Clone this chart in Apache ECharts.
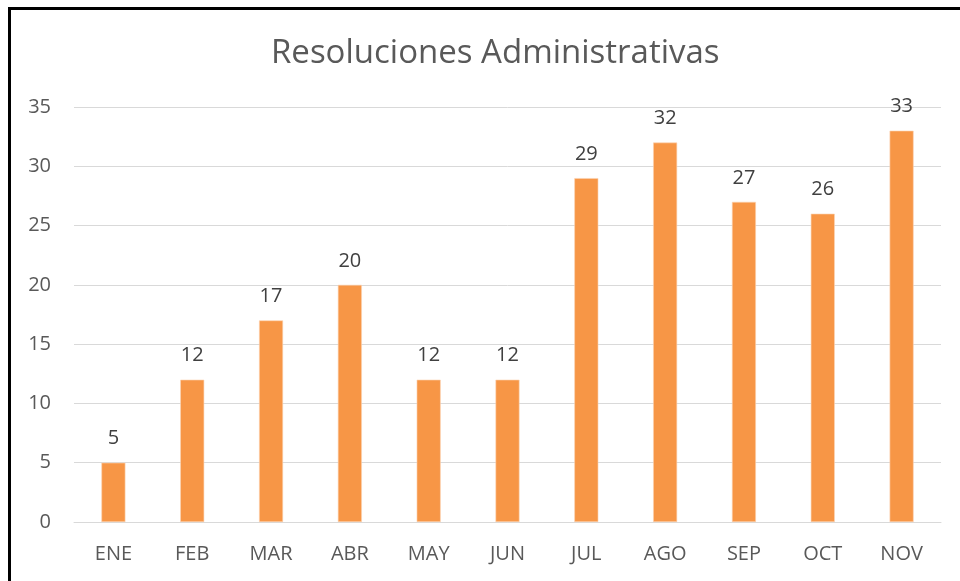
<!DOCTYPE html>
<html>
<head>
<meta charset="utf-8">
<script src="https://cdn.jsdelivr.net/npm/echarts@6/dist/echarts.min.js"></script>
<style>
  html, body { margin: 0; padding: 0; background: #fff; }
  #chart { position: absolute; left: 0; top: 0; width: 960px; height: 581px; }
  #frame { position: absolute; left: 8px; top: 7px; width: 1000px; height: 700px; border-left: 3px solid #000; border-top: 3px solid #000; pointer-events: none; }
</style>
</head>
<body>
<div id="chart"></div>
<div id="frame"></div>
<script>
const titleText = 'Resoluciones Administrativas';
const months = ['ENE', 'FEB', 'MAR', 'ABR', 'MAY', 'JUN', 'JUL', 'AGO', 'SEP', 'OCT', 'NOV'];
const values = [5, 12, 17, 20, 12, 12, 29, 32, 27, 26, 33];
const yMin = 0, yMax = 35, yStep = 5;

const FONT = '"Open Sans", "Noto Sans", sans-serif';
const chart = echarts.init(document.getElementById('chart'), null, { renderer: 'canvas' });
chart.setOption({
  animation: false,
  backgroundColor: '#fff',
  title: {
    text: titleText,
    left: 266,
    top: 32,
    textStyle: { fontFamily: FONT, fontSize: 33, fontWeight: 'normal', color: '#595959' }
  },
  grid: { left: 74, right: 19, top: 107, bottom: 59, containLabel: false },
  xAxis: {
    type: 'category',
    data: months,
    axisLine: { show: true, lineStyle: { color: '#d9d9d9', width: 1 } },
    axisTick: { show: false },
    axisLabel: { fontFamily: FONT, fontSize: 20, color: '#595959', margin: 22 }
  },
  yAxis: {
    type: 'value',
    min: yMin, max: yMax, interval: yStep,
    axisLine: { show: false },
    axisTick: { show: false },
    axisLabel: { fontFamily: FONT, fontSize: 20, color: '#595959', margin: 23 },
    splitLine: { lineStyle: { color: '#d9d9d9', width: 1 } }
  },
  series: [{
    type: 'bar',
    data: values,
    barWidth: 24,
    itemStyle: { color: '#F79646', borderColor: '#fbd3b3', borderWidth: 0.6 },
    label: {
      show: true,
      position: 'top',
      distance: 14,
      fontFamily: FONT,
      fontSize: 20,
      color: '#404040'
    }
  }]
});
</script>
</body>
</html>
